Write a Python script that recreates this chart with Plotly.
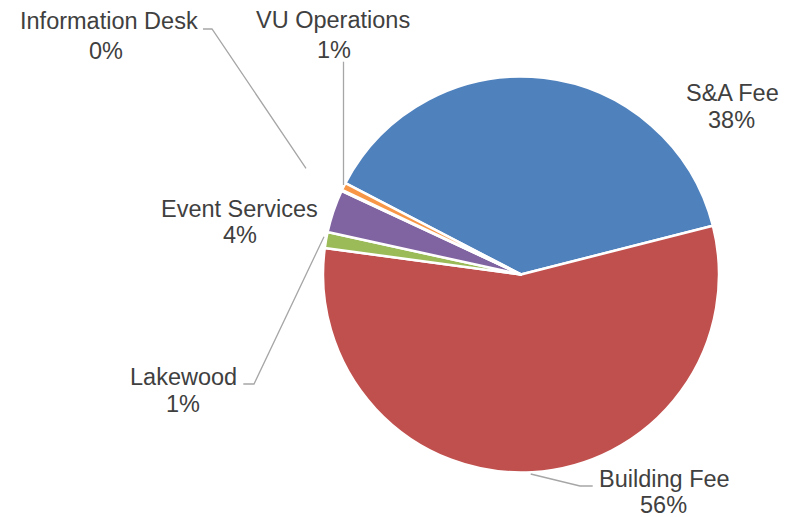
import plotly.graph_objects as go

W, H = 792, 517

labels = ["S&A Fee", "Building Fee", "Lakewood", "Event Services", "Information Desk", "VU Operations"]
values = [38.4, 56.1, 1.3, 3.5, 0.1, 0.6]
colors = ["#4F81BD", "#C0504D", "#9BBB59", "#8064A2", "#4BACC6", "#F79646"]

total = sum(values)
pct_text = [f"{int(v / total * 100 + 0.5)}%" for v in values]

# label layout (pixel positions: name-line center x, name baseline, pct center x, pct baseline)
label_pos = {
    "S&A Fee": (732, 101.7, 731, 128.3),
    "Building Fee": (664, 487.5, 663, 513),
    "Lakewood": (183, 385, 183.3, 411.7),
    "Event Services": (239.5, 216.7, 239.7, 243.3),
    "Information Desk": (109, 29, 106, 59),
    "VU Operations": (333, 28.5, 334, 58.5),
}
leaders = {
    "Building Fee": [(530.7, 474), (580, 486), (592.7, 486)],
    "Lakewood": [(243.3, 384), (254, 384), (324, 236.7)],
    "Information Desk": [(203, 29), (212, 29), (306, 168.3)],
    "VU Operations": [(343.5, 61.7), (343.5, 185)],
}

cx, cy, r = 521, 274.5, 198

def px(x):
    return x / W

def py(y):
    return 1 - y / H

fig = go.Figure(go.Pie(
    labels=labels,
    values=values,
    sort=False,
    direction="clockwise",
    rotation=-62.5,
    marker=dict(colors=colors, line=dict(color="white", width=2.5)),
    textinfo="none",
    textposition="none",
    hoverinfo="label+percent",
    showlegend=False,
    domain=dict(x=[px(cx - r), px(cx + r)], y=[py(cy + r), py(cy - r)]),
))

font = dict(family="Liberation Sans, Arial, sans-serif", size=23.5, color="#404040")
annotations = []
for lab, pt in zip(labels, pct_text):
    x1, b1, x2, b2 = label_pos[lab]
    annotations.append(dict(text=lab, x=px(x1), y=py(b1 - 8.2), xref="paper", yref="paper",
                            xanchor="center", yanchor="middle", showarrow=False, font=font))
    annotations.append(dict(text=pt, x=px(x2), y=py(b2 - 8.2), xref="paper", yref="paper",
                            xanchor="center", yanchor="middle", showarrow=False, font=font))

shapes = []
for lab, pts in leaders.items():
    path = "M " + " L ".join(f"{px(x):.5f},{py(y):.5f}" for x, y in pts)
    shapes.append(dict(type="path", path=path, xref="paper", yref="paper",
                       line=dict(color="#A6A6A6", width=1.3)))

fig.update_layout(
    width=W, height=H,
    margin=dict(l=0, r=0, t=0, b=0),
    paper_bgcolor="white",
    plot_bgcolor="white",
    annotations=annotations,
    shapes=shapes,
)

fig.write_html("out.html")
